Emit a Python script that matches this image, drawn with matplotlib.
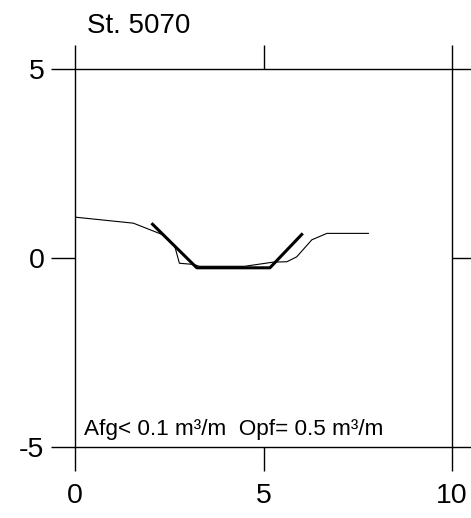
import matplotlib
matplotlib.use("Agg")
import matplotlib.pyplot as plt

plt.rcParams["font.family"] = ["Liberation Sans", "DejaVu Sans"]
plt.rcParams["axes.unicode_minus"] = False

# 测量剖面（细线）
profile_x = [0.0, 1.55, 2.34, 2.65, 2.77, 3.14, 3.30, 4.50, 5.26, 5.62, 5.88, 6.28, 6.68, 7.78]
profile_y = [1.08, 0.92, 0.61, 0.30, -0.14, -0.17, -0.22, -0.22, -0.11, -0.10, 0.03, 0.48, 0.65, 0.65]

# 设计剖面（粗线）
design_x = [2.03, 3.23, 5.17, 6.04]
design_y = [0.92, -0.26, -0.26, 0.65]

ticks_x = [0, 5, 10]
ticks_y = [-5, 0, 5]
title = "St. 5070"
note = "Afg< 0.1 m³/m  Opf= 0.5 m³/m"

fig = plt.figure(figsize=(4.71, 5.18), dpi=100)
ax = fig.add_axes([0.159, 0.137, 0.801, 0.730])

ax.plot(profile_x, profile_y, color="black", lw=0.8)
ax.plot(design_x, design_y, color="black", lw=2.2, solid_capstyle="butt")

ax.set_xlim(0, 10)
ax.set_ylim(-5, 5)
ax.set_xticks(ticks_x)
ax.set_yticks(ticks_y)
ax.tick_params(direction="out", length=17, width=1, labelsize=20.5,
               top=True, right=True)
ax.tick_params(axis="x", pad=9)
ax.tick_params(axis="y", pad=5)
for s in ax.spines.values():
    s.set_linewidth(1)

ax.text(0.24, -4.68, note, fontsize=16.2, ha="left", va="baseline")
fig.text(87 / 471, 1 - 33 / 518, title, fontsize=20, ha="left", va="baseline")

fig.savefig("out.png", dpi=100)
